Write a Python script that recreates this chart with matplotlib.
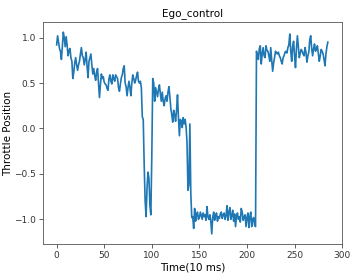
import numpy as np
import matplotlib
matplotlib.use('Agg')
import matplotlib.pyplot as plt

# Throttle readings, one per 10 ms step
cruise = [0.92, 1.02, 0.95, 0.88, 0.85, 0.76, 0.90, 1.06, 1.00, 0.90,
          1.01, 0.92, 0.80, 0.86, 0.88, 0.78, 0.74, 0.55, 0.62, 0.72,
          0.78, 0.70, 0.64, 0.70, 0.74, 0.82, 0.89, 0.80, 0.78, 0.70,
          0.76, 0.84, 0.68, 0.56, 0.74, 0.78, 0.82, 0.70, 0.60, 0.66,
          0.58, 0.53, 0.62, 0.66, 0.50, 0.34, 0.48, 0.60, 0.55, 0.57,
          0.51, 0.49, 0.48, 0.44, 0.42, 0.55, 0.59, 0.52, 0.49, 0.59,
          0.55, 0.52, 0.59, 0.57, 0.55, 0.45, 0.41, 0.49, 0.56, 0.59,
          0.66, 0.69, 0.50, 0.46, 0.36, 0.45, 0.52, 0.45, 0.36, 0.50,
          0.59, 0.55, 0.50, 0.53, 0.58, 0.62, 0.52, 0.50, 0.52, 0.45]
first_dip = [0.13, 0.10, -0.40, -0.80, -0.97, -0.65, -0.48, -0.55, -0.85,
             -0.95, -0.30]
recovery = [0.55, 0.50, 0.30, 0.45, 0.40, 0.35, 0.43, 0.48, 0.38, 0.30,
            0.40, 0.30, 0.25, 0.33, 0.36, 0.30, 0.40, 0.46, 0.35, 0.22,
            0.15, 0.07, 0.20, 0.15, 0.08, 0.20, 0.37, 0.12, -0.08, 0.10,
            0.08, 0.01, 0.12, 0.05, 0.10, 0.02, -0.15, -0.68, -0.62, 0.05,
            -0.72, -0.98]
braking = [-0.97, -1.10, -0.88, -1.02, -0.95, -0.92, -1.00, -0.98, -0.92, -0.96,
           -1.00, -0.93, -0.97, -0.95, -1.01, -0.86, -0.97, -1.00, -0.95, -1.02,
           -1.16, -0.98, -0.92, -1.01, -0.96, -0.93, -1.02, -0.97, -0.99, -0.94,
           -0.92, -0.99, -0.95, -0.93, -1.00, -0.96, -0.85, -1.01, -0.92, -0.87,
           -1.00, -0.96, -0.90, -1.02, -0.94, -1.08, -0.96, -0.93, -1.00, -0.97,
           -1.03, -0.88, -0.92, -1.01, -0.97, -0.95, -1.08, -0.98, -0.93, -1.09,
           -0.97, -0.92, -1.08, -1.00, -0.98, -1.06, -1.08]
accel = [0.85, 0.80, 0.76, 0.88, 0.91, 0.71, 0.82, 0.89, 0.80, 0.78,
         0.91, 0.86, 0.85, 0.80, 0.74, 0.89, 0.75, 0.63, 0.72, 0.78,
         0.85, 0.83, 0.82, 0.84, 0.80, 0.78, 0.74, 0.71, 0.78, 0.80,
         0.84, 0.85, 0.83, 0.89, 0.92, 1.04, 0.85, 0.74, 0.90, 0.96,
         0.80, 0.67, 0.88, 1.02, 0.90, 0.78, 0.83, 0.87, 0.85, 0.82,
         0.80, 0.89, 0.84, 0.73, 0.80, 0.84, 0.98, 1.02, 0.88, 0.80,
         0.88, 0.93, 0.85, 0.87, 0.91, 0.82, 0.74, 0.80, 0.87, 0.85,
         0.82, 0.76, 0.69, 0.82, 0.90, 0.95]

throttle = cruise + first_dip + recovery + braking + accel
time = np.arange(len(throttle))

fig = plt.figure(figsize=(3.59, 2.76), dpi=100)
ax = fig.add_axes([0.12, 0.116, 0.833, 0.804])
ax.plot(time, throttle, color='#1f77b4', linewidth=1.2)

ax.set_xticks([0, 50, 100, 150, 200, 250, 300])
ax.set_yticks([-1.0, -0.5, 0.0, 0.5, 1.0])
ax.tick_params(labelsize=6.5, length=3, width=0.6, pad=2,
               colors='#444444', labelcolor='#333333')
for s in ax.spines.values():
    s.set_linewidth(0.6)
    s.set_color('#555555')

ax.set_title('Ego_control', fontsize=7.5, pad=4)
ax.set_xlabel('Time(10 ms)', fontsize=7.5, labelpad=2)
ax.set_ylabel('Throttle Position', fontsize=7.5, labelpad=1)

fig.savefig('out.png', dpi=100)
